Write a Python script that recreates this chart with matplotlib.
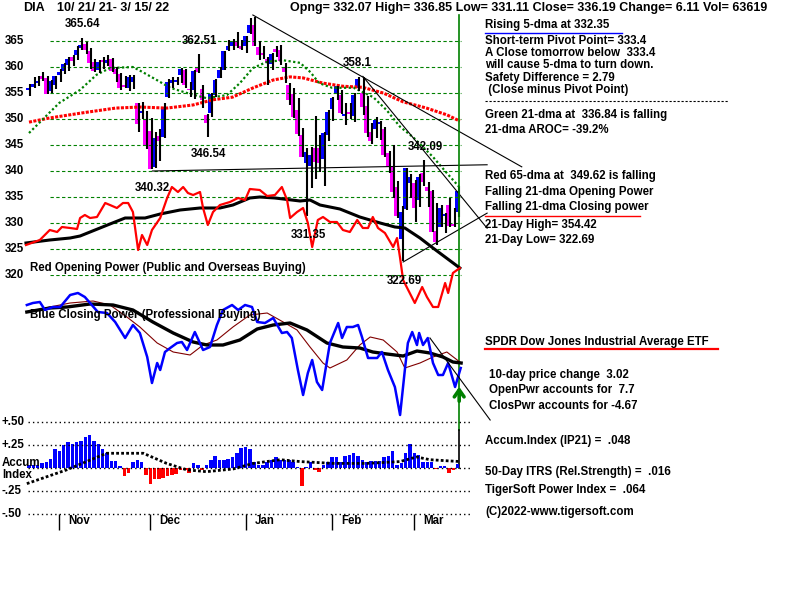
import matplotlib
matplotlib.use('Agg')
import matplotlib.pyplot as plt
import numpy as np

plt.rcParams['font.family'] = ['Liberation Sans', 'DejaVu Sans']

# ---------------- data ----------------
opens = [355.6, 356.2, 357.0, 358.2, 357.8, 355.3, 356.6, 358.5, 359.3, 360.3,
         361.9, 362.3, 363.7, 364.4, 363.0, 360.9, 359.4, 361.4, 360.8, 361.5,
         359.6, 358.6, 356.3, 356.0, 357.2, 353.0, 351.2, 349.9, 347.6, 340.8,
         346.8, 346.6, 354.3, 357.0, 357.2, 358.5, 359.4, 355.8, 355.5, 360.0,
         355.7, 350.7, 351.2, 354.7, 357.9, 359.5, 363.2, 364.1, 365.0, 364.0,
         364.0, 366.5, 368.1, 363.8, 362.6, 361.5, 360.5, 363.5, 363.2, 360.0,
         356.6, 354.8, 351.8, 346.9, 341.5, 341.0, 344.5, 344.5, 342.4, 346.9,
         351.9, 355.0, 354.7, 350.6, 351.2, 350.5, 356.0, 355.0, 352.5, 347.5,
         348.0, 349.0, 348.0, 343.5, 341.0, 337.0, 327.0, 332.7, 337.6, 337.7,
         334.4, 339.6, 337.0, 336.1, 328.4, 329.3, 331.4, 333.5, 329.8, 332.07]
highs = [356.7, 358.0, 358.2, 359.1, 358.3, 357.5, 358.3, 359.6, 360.7, 361.9,
         362.3, 364.0, 365.6, 364.9, 363.6, 361.5, 361.3, 361.9, 362.3, 361.8,
         360.0, 358.9, 358.3, 358.5, 358.4, 353.0, 353.2, 351.6, 350.1, 347.5,
         348.0, 353.0, 357.7, 358.1, 358.1, 359.8, 359.6, 357.2, 359.5, 362.5,
         356.5, 351.0, 355.0, 357.6, 360.0, 363.1, 365.2, 365.4, 366.8, 365.2,
         366.0, 369.5, 369.6, 365.0, 364.0, 362.0, 362.6, 364.0, 364.3, 360.7,
         357.0, 356.0, 354.0, 348.3, 344.4, 344.7, 350.5, 347.0, 347.5, 351.8,
         354.2, 356.3, 355.6, 353.1, 353.0, 355.0, 358.0, 358.1, 354.4, 349.3,
         350.3, 349.6, 348.5, 343.9, 345.0, 338.0, 333.2, 340.6, 339.4, 338.3,
         339.5, 342.1, 337.9, 336.4, 333.9, 333.5, 332.0, 334.8, 332.8, 336.85]
lows = [354.4, 355.9, 356.3, 357.3, 354.8, 355.0, 355.7, 357.2, 358.6, 359.3,
        360.2, 361.4, 363.2, 362.5, 359.6, 359.0, 358.8, 359.6, 360.2, 359.1,
        357.2, 355.5, 355.9, 355.4, 355.7, 347.5, 350.0, 344.2, 340.3, 340.5,
        341.9, 346.4, 354.0, 356.0, 356.5, 357.0, 356.0, 354.3, 353.9, 358.8,
        352.2, 346.6, 350.3, 354.2, 357.8, 359.5, 363.0, 363.2, 363.6, 363.3,
        362.6, 366.3, 364.0, 361.3, 361.5, 356.5, 359.4, 362.0, 360.4, 357.0,
        352.6, 350.2, 346.7, 342.6, 331.4, 336.7, 338.4, 339.9, 337.1, 345.8,
        349.7, 353.7, 350.9, 348.8, 350.0, 349.5, 355.4, 350.8, 346.6, 345.1,
        346.4, 345.9, 342.6, 339.6, 334.8, 330.9, 322.7, 332.5, 334.8, 330.2,
        333.0, 337.1, 333.0, 328.2, 325.8, 329.3, 328.0, 329.2, 329.2, 331.11]
closes = [356.0, 356.8, 357.4, 357.6, 354.9, 357.3, 358.2, 359.1, 360.5, 361.6,
          361.2, 363.3, 364.3, 363.2, 360.8, 359.2, 361.0, 360.9, 361.4, 359.3,
          358.7, 356.0, 356.2, 358.1, 358.0, 349.0, 351.4, 344.8, 340.4, 346.4,
          345.8, 352.3, 357.2, 357.5, 357.5, 359.7, 356.5, 355.5, 359.3, 359.0,
          353.7, 349.3, 354.9, 357.5, 359.5, 363.0, 364.0, 364.9, 364.0, 363.4,
          365.9, 368.0, 364.1, 362.4, 362.3, 360.7, 362.5, 362.9, 361.1, 359.1,
          353.7, 350.3, 347.2, 342.7, 343.6, 343.0, 341.7, 341.6, 347.3, 351.3,
          354.1, 356.3, 351.1, 350.9, 350.9, 354.6, 357.7, 352.4, 347.4, 345.7,
          349.9, 349.3, 343.1, 340.8, 336.0, 331.3, 332.2, 340.6, 338.9, 332.9,
          338.9, 337.9, 336.2, 328.2, 326.3, 332.9, 331.7, 329.4, 329.5, 336.19]

# 21-dma (green) and 65-dma (red), read at sample bars
ma21_idx = [0, 7, 11.8, 15.6, 18.7, 24, 26.3, 29.5, 32.6, 36.5, 41, 45.7, 48.7, 51.7, 55,
            58.7, 62.6, 65, 67, 70, 75, 79.5, 82.6, 85.7, 88.7, 93.3, 96.5, 99.5]
ma21_val = [347.3, 353.1, 355.6, 358.5, 359.8, 360.0, 359.0, 357.5, 356.0, 355.0, 354.0, 354.6,
            356.9, 359.8, 361.0, 361.3, 360.8, 359.0, 356.9, 356.0, 356.0, 354.2, 351.7, 348.5,
            346.5, 342.7, 339.6, 336.8]
ma65_idx = [0, 4.8, 12.5, 20, 25.6, 31.8, 37.9, 42.5, 47, 51.8, 56.4, 60.3, 63.3, 67.9,
            72.5, 77, 81.8, 86.4, 91.8, 96.5, 99.5]
ma65_val = [349.4, 350.2, 351.2, 352.1, 352.3, 352.1, 352.7, 353.7, 354.2, 356.0, 357.5, 358.1,
            357.9, 356.9, 356.3, 356.1, 355.0, 353.3, 352.1, 350.8, 349.6]

# Opening Power (red) and its 21-dma (black)
op_idx = [-0.7, 2.5, 4.8, 6.5, 7.6, 9.5, 11.1, 11.8, 12.9, 14.1, 15.7, 17.6, 18.7, 20.3, 21.7,
          22.9, 24.0, 25.2, 26.1, 27.3, 28.4, 30.3, 31.9, 33.0, 34.4, 35.6, 36.7, 37.9, 39.5,
          40.2, 41.3, 42.5, 44.1, 46.4, 48.3, 49.9, 51.0, 53.3, 55.0, 56.8, 58.4, 59.6, 60.3,
          61.9, 63.3, 64.4, 65.4, 66.7, 67.9, 69.5, 71.1, 72.5, 74.1, 75.8, 77.1, 78.3, 79.4,
          80.6, 82.2, 84.1, 85.0, 85.7, 86.4, 89.1, 90.8, 91.9, 93.3, 94.5, 96.1, 96.8, 97.9, 99.5]
op_val = [35, 40, 50, 48, 53, 52, 51, 62, 65, 62, 63, 77, 75, 72, 77, 77, 68, 30, 45, 35,
          50, 62, 82, 93, 88, 93, 87, 85, 88, 72, 55, 68, 75, 78, 82, 80, 91, 90, 84, 85,
          93, 80, 62, 68, 72, 57, 33, 60, 63, 58, 58, 50, 48, 60, 52, 52, 63, 52, 47, 33,
          42, 22, 0, -23, -7, -17, -27, -27, -3, -13, 7, 12]
opma_idx = [-0.7, 4.8, 9.5, 11.8, 14.1, 18.7, 22.2, 26.8, 30.3, 34.9, 39.5, 44.1, 47.1, 51.0,
            53.3, 56.8, 62.6, 64.9, 67.2, 71.8, 76.4, 81.1, 84.5, 86.8, 90.3, 93.3, 96.4, 99.5]
opma_val = [37, 40, 42, 44, 48, 56, 62, 62, 66, 70, 72, 72, 75, 82, 83, 82, 79, 80, 75, 71,
            63, 57, 53, 52, 42, 32, 22, 12]

# Closing Power (blue), its fast MA (dark red) and 21-dma (black)
cp_idx = [-0.5, 0.9, 2.5, 3.7, 5.5, 7.2, 9.5, 11.3, 12.9, 14.5, 15.9, 18.0, 19.9, 22.2, 24.0,
          25.6, 27.3, 28.4, 29.6, 30.3, 31.4, 32.6, 34.2, 35.3, 36.5, 38.3, 40.2, 41.8, 43.4,
          44.8, 46.9, 48.3, 49.9, 51.5, 52.7, 54.5, 56.4, 58.4, 59.6, 60.7, 62.1, 63.3, 64.4,
          65.4, 66.5, 67.7, 69.5, 71.4, 72.3, 73.4, 74.8, 76.0, 76.9, 78.3, 80.4, 81.5, 82.9,
          84.5, 85.7, 86.8, 87.5, 88.5, 89.6, 90.1, 91.0, 92.1, 93.3, 94.5, 95.6, 96.8, 98.4, 99.7]
cp_val = [115, 117, 118, 110, 113, 113, 125, 127, 123, 115, 108, 107, 98, 82, 95, 87, 63, 37,
          57, 50, 68, 72, 77, 78, 70, 88, 70, 73, 95, 110, 115, 110, 115, 113, 98, 97, 102, 87,
          88, 82, 50, 25, 47, 60, 38, 30, 77, 97, 82, 93, 93, 95, 83, 62, 62, 68, 50, 33, 5, 50,
          77, 88, 75, 87, 75, 82, 57, 45, 45, 57, 33, 52]
cpma_idx = [-0.5, 4.8, 8.8, 14.1, 19.4, 24.0, 28.6, 33.3, 37.9, 41.1, 44.8, 48.7, 52.7, 56.4,
            60.3, 64.2, 68.8, 72.5, 76.4, 79.4, 82.7, 86.4, 89.6, 92.6, 95.6, 97.9, 99.8]
cpma_val = [108, 112, 113, 116, 115, 110, 98, 87, 78, 75, 75, 80, 91, 95, 97, 90, 77, 73, 72,
            68, 66, 64, 69, 67, 63, 58, 57]
cpfast_idx = [-0.5, 4.8, 9.5, 14.8, 18.7, 22.6, 25.6, 29.6, 33.3, 37.2, 40.2, 43.4, 47.1, 51.0,
              55.0, 58.7, 61.9, 64.9, 67.9, 69.5, 73.4, 76.4, 78.8, 81.8, 85.0, 86.8, 90.3,
              93.3, 96.5, 99.8]
cpfast_val = [108, 113, 117, 119, 115, 103, 93, 77, 68, 65, 75, 80, 93, 105, 107, 98, 90, 73,
              57, 52, 60, 75, 83, 80, 68, 52, 57, 63, 68, 57]

# Accumulation Index (IP21), one value per bar, and its moving average
accum = [0.03, 0.03, 0.03, 0.05, 0.07, 0.10, 0.21, 0.19, 0.25, 0.28,
         0.26, 0.28, 0.29, 0.34, 0.36, 0.29, 0.26, 0.21, 0.16, 0.08,
         0.08, 0.02, -0.09, -0.05, 0.06, 0.09, 0.06, -0.08, -0.17, -0.12,
         -0.12, -0.11, -0.09, -0.08, -0.06, -0.02, -0.02, -0.05, 0.05, 0.03,
         -0.02, 0.03, 0.09, 0.13, 0.09, 0.09, 0.10, 0.12, 0.16, 0.22,
         0.23, 0.21, 0.07, 0.03, 0.03, 0.07, 0.09, 0.12, 0.09, 0.09,
         0.09, 0.07, 0.01, -0.20, 0.01, 0.06, -0.02, -0.04, 0.03, 0.07,
         0.12, 0.12, 0.07, 0.13, 0.14, 0.16, 0.13, 0.09, 0.07, 0.08,
         0.08, 0.08, 0.12, 0.13, 0.19, 0.03, 0.05, 0.16, 0.26, 0.16,
         0.14, 0.07, 0.06, 0.07, -0.01, 0.02, 0.02, -0.05, -0.02, 0.048]
accma_idx = [-0.5, 8.7, 17.9, 26.4, 31.8, 36.4, 41.0, 47.2, 51.8, 58.0, 62.6, 70.3, 78.0,
             85.7, 89.5, 92.6, 99.5]
accma_val = [-0.17, -0.02, 0.16, 0.16, 0.05, -0.02, -0.04, -0.01, 0.05, 0.09, 0.07, 0.05,
             0.05, 0.07, 0.12, 0.09, 0.07]

price_ticks = [365, 360, 355, 350, 345, 340, 335, 330, 325, 320]
acc_ticks = [0.50, 0.25, 0.0, -0.25, -0.50]
acc_tick_labels = ['+.50', '+.25', '', '-.25', '-.50']
month_idx = [7, 28, 50, 70, 89]
month_labels = ['Nov', 'Dec', 'Jan', 'Feb', 'Mar']

peak_labels = ['365.64', '362.51', '358.1', '346.54', '342.09', '340.32', '331.35', '322.69']
peak_xy = [(65, 24), (182, 41), (343, 63), (191, 154), (408, 147), (135, 188), (291, 235), (387, 281)]

# trend lines in (bar, price)
trend_a = ([51.7, 113.8], [370.0, 340.8])
trend_b = ([77.1, 105.8], [358.2, 329.0])
trend_c = ([86.4, 105.8], [322.5, 331.9])
support = ([28.5, 105.8], [340.0, 341.2])
cp_trend = ([92.6, 106.5], [82, 0])

# ---------------- layout ----------------
W, H = 800, 600
X0, DX = 29.0, 4.33           # pixel of bar 0, pixels per bar
XL = (-X0 / DX, (W - X0) / DX)
fig = plt.figure(figsize=(8, 6), dpi=100)
fig.patch.set_facecolor('white')

def mk_ax(ylo, yhi):
    a = fig.add_axes([0, 0, 1, 1])
    a.set_xlim(*XL)
    a.set_ylim(ylo, yhi)
    a.axis('off')
    a.patch.set_alpha(0)
    return a

def px2i(px):
    return (px - X0) / DX

PY0, PS = 41.0, 5.2
ax = mk_ax(365 - (H - PY0) / PS, 365 + PY0 / PS)
ax_op = mk_ax(280 - H, 280)
ax_cp = mk_ax(420 - H, 420)
AZ, AS = 468.0, 92.0
ax_ac = mk_ax((AZ - H) / AS, AZ / AS)
tx = fig.add_axes([0, 0, 1, 1]); tx.set_xlim(0, W); tx.set_ylim(H, 0); tx.axis('off'); tx.patch.set_alpha(0)

FS = 8.3
TK = dict(fontsize=FS, fontweight='bold', color='black')
TH = dict(fontsize=9.0, fontweight='bold', color='black')

# ---- price panel ----
n = len(closes)
idx = np.arange(n)
o = np.array(opens); c = np.array(closes); hi = np.array(highs); lo = np.array(lows)
ax.hlines(price_ticks, px2i(50), px2i(461), colors='#008000', lw=0.8, linestyles=(0, (3, 2.2)))
ax.plot(ma65_idx, ma65_val, color='#ff0000', lw=2.2, ls=(0, (1, 0.45)))
ax.plot(ma21_idx, ma21_val, color='#008000', lw=1.6, ls=(0, (1, 1.1)))
ax.vlines(idx + 0.3, lo, hi, color='black', lw=1.5)
body_col = np.where(c >= o, '#0000ff', '#ff00ff')
body_h = np.maximum(np.abs(c - o), 0.35)
ax.bar(idx - 0.15, body_h, bottom=np.minimum(o, c), width=0.9, color=body_col, linewidth=0)
for tl in (trend_a, trend_b, trend_c, support):
    ax.plot(tl[0], tl[1], color='black', lw=0.8)
for p in price_ticks:
    ax.text(px2i(5), p, str(p), ha='left', va='center', **TK)
ax.axvline(idx[-1] + 0.35, ymin=1 - 430 / H, ymax=1 - 15 / H, color='#008000', lw=1.2)
ax.axvline(idx[-1] + 0.35, ymin=1 - 468 / H, ymax=1 - 430 / H, color='black', lw=1.2)

# ---- opening power ----
ax_op.plot(opma_idx, opma_val, color='black', lw=2.2)
ax_op.plot(op_idx, op_val, color='#ff0000', lw=1.6)

# ---- closing power ----
ax_cp.plot(cpfast_idx, cpfast_val, color='#800000', lw=0.8)
ax_cp.plot(cpma_idx, cpma_val, color='black', lw=2.4)
ax_cp.plot(cp_idx, cp_val, color='#0000ff', lw=1.8)
ax_cp.plot(cp_trend[0], cp_trend[1], color='black', lw=0.8)
ax_cp.annotate('', xy=(idx[-1] + 0.35, 420 - 384), xytext=(idx[-1] + 0.35, 420 - 404),
               arrowprops=dict(arrowstyle='->,head_length=0.5,head_width=0.35',
                               color='#008000', lw=2.6))

# ---- accumulation index ----
acc = np.array(accum)
ax_ac.hlines(acc_ticks, px2i(28), px2i(470), colors='black', lw=1.0, linestyles=(0, (1, 2.2)))
ax_ac.bar(idx, acc, width=0.8, color=np.where(acc >= 0, '#0000ff', '#ff0000'), linewidth=0)
ax_ac.plot(accma_idx, accma_val, color='black', lw=2.0, ls=(0, (1, 0.8)))
for v, lab in zip(acc_ticks, acc_tick_labels):
    if lab:
        ax_ac.text(px2i(2), v, lab, ha='left', va='center', **TK)
ax_ac.text(px2i(2), (AZ - 463) / AS, 'Accum', ha='left', va='center', **TK)
ax_ac.text(px2i(2), (AZ - 475) / AS, 'Index', ha='left', va='center', **TK)
ax_ac.vlines(month_idx, (AZ - 530) / AS, (AZ - 514) / AS, color='black', lw=1.0)
for mi, ml in zip(month_idx, month_labels):
    ax_ac.text(mi + 2.1, (AZ - 521) / AS, ml, ha='left', va='center', **TK)

# ---- texts ----
for lab, (x, y) in zip(peak_labels, peak_xy):
    tx.text(x, y, lab, ha='left', va='center', **TK)
tx.text(30, 268, 'Red Opening Power (Public and Overseas Buying)', ha='left', va='center',
        bbox=dict(fc='white', ec='none', pad=0.6), **TK)
tx.text(30, 315, 'Blue Closing Power (Professional Buying)', ha='left', va='center', **TK)
tx.text(23, 8, 'DIA', ha='left', va='center', **TH)
tx.text(57, 8, '10/ 21/ 21- 3/ 15/ 22', ha='left', va='center', **TH)
tx.text(290, 8, 'Opng= 332.07 High= 336.85 Low= 331.11 Close= 336.19 Change= 6.11 Vol= 63619',
        ha='left', va='center', **TH)

right = [
    (485, 25, 'Rising 5-dma at 332.35'),
    (485, 41, 'Short-term Pivot Point= 333.4'),
    (485, 53, 'A Close tomorrow below  333.4'),
    (485, 65, 'will cause 5-dma to turn down.'),
    (485, 78, 'Safety Difference = 2.79'),
    (485, 90, ' (Close minus Pivot Point)'),
    (485, 115, 'Green 21-dma at  336.84 is falling'),
    (485, 130, '21-dma AROC= -39.2%'),
    (485, 176, 'Red 65-dma at  349.62 is falling'),
    (485, 192, 'Falling 21-dma Opening Power'),
    (485, 207, 'Falling 21-dma Closing power'),
    (485, 225, '21-Day High= 354.42'),
    (485, 240, '21-Day Low= 322.69'),
    (485, 342, 'SPDR Dow Jones Industrial Average ETF'),
    (489, 375, '10-day price change  3.02'),
    (489, 390, 'OpenPwr accounts for  7.7'),
    (489, 406, 'ClosPwr accounts for -4.67'),
    (485, 441, 'Accum.Index (IP21) =  .048'),
    (485, 472, '50-Day ITRS (Rel.Strength) =  .016'),
    (485, 490, 'TigerSoft Power Index =  .064'),
    (485, 512, '(C)2022-www.tigersoft.com'),
]
for x, y, s in right:
    tx.text(x, y, s, ha='left', va='center', **TK)
tx.plot([485, 728], [101, 101], color='black', lw=0.8, ls=(0, (2, 1.6)))
tx.plot([485, 622], [32.5, 32.5], color='#0000ff', lw=1.0)
tx.plot([485, 640], [215.5, 215.5], color='#ff0000', lw=1.0)
tx.plot([485, 718], [349, 349], color='#ff0000', lw=1.6)

fig.savefig('out.png', dpi=100, facecolor='white')
